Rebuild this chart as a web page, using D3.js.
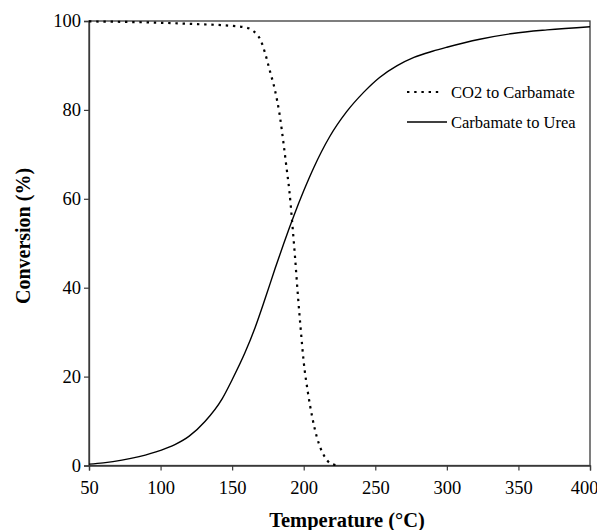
<!DOCTYPE html>
<html>
<head>
<meta charset="utf-8">
<script src="https://cdn.jsdelivr.net/npm/d3@7"></script>
<style>
  html, body { margin: 0; padding: 0; background: #fff; }
  svg { display: block; }
</style>
</head>
<body>
<svg id="chart" width="597" height="530"></svg>
<script>
// Equilibrium conversion vs. temperature for the two urea synthesis steps
const co2Temps   = [50, 75, 100, 125, 150, 160, 165, 170, 173, 176, 180, 183, 186, 188, 190, 192, 194, 196, 198, 200, 203, 206, 209, 212, 215, 218, 221, 225];
const co2Values  = [99.9, 99.8, 99.6, 99.3, 98.9, 98.5, 97.7, 95.6, 92.8, 89.2, 84.3, 79.3, 72.2, 67.0, 61.7, 54.5, 46.6, 38.0, 30.3, 23.3, 16.3, 10.8, 6.6, 3.7, 1.8, 0.6, 0.2, 0];

const ureaTemps  = [50, 60, 73, 85, 100, 110, 120, 131, 143, 150, 159, 166, 173, 180, 186, 190, 193, 200, 207, 218, 230, 242, 253, 265, 277, 290, 300, 323, 346, 370, 400];
const ureaValues = [0.3, 0.6, 1.2, 2.0, 3.4, 4.7, 6.6, 9.9, 15.0, 19.3, 25.4, 31.0, 37.5, 44.3, 49.9, 53.5, 56.1, 61.8, 67.0, 73.9, 79.6, 84.0, 87.3, 89.9, 91.8, 93.2, 94.1, 95.9, 97.2, 98.0, 98.7];

const xTicks = [50, 100, 150, 200, 250, 300, 350, 400];
const yTicks = [0, 20, 40, 60, 80, 100];

const seriesNames = ["CO2 to Carbamate", "Carbamate to Urea"];

const serif = "Liberation Serif, Times New Roman, serif";
const svg = d3.select("#chart");
const plot = { left: 89, right: 590, top: 21, bottom: 465.5 };

const x = d3.scaleLinear().domain([50, 400]).range([plot.left, plot.right]);
const y = d3.scaleLinear().domain([0, 100]).range([plot.bottom, plot.top]);

// frame
svg.append("rect")
  .attr("x", plot.left).attr("y", plot.top)
  .attr("width", plot.right - plot.left).attr("height", plot.bottom - plot.top)
  .attr("fill", "none").attr("stroke", "#3a3a3a").attr("stroke-width", 1.3);

// axes
const xAxis = svg.append("g")
  .attr("transform", `translate(0,${plot.bottom})`)
  .call(d3.axisBottom(x).tickValues(xTicks).tickSize(5).tickPadding(10).tickFormat(d3.format("d")));
const yAxis = svg.append("g")
  .attr("transform", `translate(${plot.left},0)`)
  .call(d3.axisLeft(y).tickValues(yTicks).tickSize(5).tickPadding(3).tickFormat(d3.format("d")));

[xAxis, yAxis].forEach(g => {
  g.attr("font-family", serif);
  g.select(".domain").attr("stroke", "#3a3a3a").attr("stroke-width", 1.3);
  g.selectAll(".tick line").attr("stroke", "#3a3a3a").attr("stroke-width", 1.2);
  g.selectAll(".tick text")
    .attr("font-family", serif)
    .attr("font-size", 18.5)
    .attr("fill", "#000");
});
// keep the last x label inside the window
xAxis.selectAll(".tick text").filter(d => d === 400).attr("dx", -6);

// curves
const line = d3.line()
  .x(d => x(d[0]))
  .y(d => y(d[1]))
  .curve(d3.curveMonotoneX);

const co2Data = co2Temps.map((t, i) => [t, co2Values[i]]);
const ureaData = ureaTemps.map((t, i) => [t, ureaValues[i]]);

svg.append("path")
  .datum(ureaData)
  .attr("d", line)
  .attr("fill", "none")
  .attr("stroke", "#000")
  .attr("stroke-width", 1.4);

svg.append("path")
  .datum(co2Data)
  .attr("d", line)
  .attr("fill", "none")
  .attr("stroke", "#000")
  .attr("stroke-width", 2.2)
  .attr("stroke-dasharray", "2.4,4.8");

// legend
const legend = svg.append("g");
const legendRows = [
  { name: seriesNames[0], y: 92, dash: "2.4,4.8", width: 2.2, x1: 407, x2: 443 },
  { name: seriesNames[1], y: 122, dash: null, width: 1.4, x1: 407, x2: 447 }
];
legendRows.forEach(r => {
  legend.append("line")
    .attr("x1", r.x1).attr("x2", r.x2)
    .attr("y1", r.y).attr("y2", r.y)
    .attr("stroke", "#000")
    .attr("stroke-width", r.width)
    .attr("stroke-dasharray", r.dash);
  legend.append("text")
    .attr("x", 451).attr("y", r.y)
    .attr("dy", "0.35em")
    .attr("font-family", serif)
    .attr("font-size", 16.5)
    .attr("fill", "#000")
    .text(r.name);
});

// axis titles
svg.append("text")
  .attr("x", 347).attr("y", 527)
  .attr("text-anchor", "middle")
  .attr("font-family", serif)
  .attr("font-size", 20.5)
  .attr("font-weight", "bold")
  .attr("fill", "#000")
  .text("Temperature (°C)");

svg.append("text")
  .attr("transform", "translate(30,236) rotate(-90)")
  .attr("text-anchor", "middle")
  .attr("font-family", serif)
  .attr("font-size", 20)
  .attr("font-weight", "bold")
  .attr("fill", "#000")
  .text("Conversion (%)");
</script>
</body>
</html>
